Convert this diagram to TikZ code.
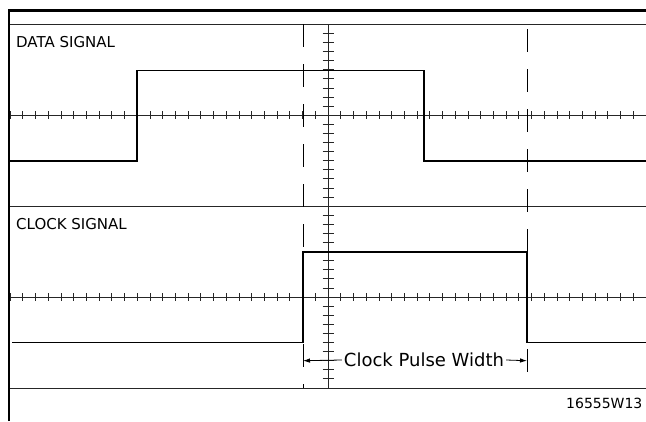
\documentclass[tikz,border=0pt]{standalone}
\usepackage{fontspec}
\setmainfont{DejaVu Sans}
\usetikzlibrary{arrows.meta}
\tikzset{
  frame/.style={line width=2.4pt,draw=black},
  gridline/.style={line width=0.8pt,draw=black!85},
  tickmark/.style={line width=0.7pt,draw=black!85},
  wave/.style={line width=1.3pt,draw=black,line join=miter},
  marker/.style={line width=1pt,draw=black,dash pattern=on 23pt off 17pt},
  lab/.style={font=\fontsize{15}{15}\selectfont,anchor=base west,inner sep=0pt},
  dimlab/.style={font=\fontsize{18}{18}\selectfont,inner sep=2pt},
  dim/.style={-{Latex[length=7pt,width=4.5pt]},line width=0.8pt}
}
\begin{document}
\begin{tikzpicture}[x=1pt,y=-1pt]
  \useasboundingbox (0,0) rectangle (646,421);

  % screen frame
  \draw[frame] (9,421) -- (9,10.5) -- (646,10.5);

  % graticule
  \foreach \yy in {24.3,115,206,297,388}
    \draw[gridline] (10,\yy) -- (646,\yy);
  \draw[gridline] (328,24.3) -- (328,388);
  \foreach \i in {0,...,50} {
    \draw[tickmark] ({10+12.72*\i},111) -- ({10+12.72*\i},119);
    \draw[tickmark] ({10+12.72*\i},293) -- ({10+12.72*\i},301);
  }
  \foreach \j in {0,...,40}
    \draw[tickmark] (322.5,{24.3+9.09*\j}) -- (333.5,{24.3+9.09*\j});

  % data trace
  \node[lab] (datalab) at (16,47) {DATA SIGNAL};
  \draw[wave] (10,161) -- (137,161) -- (137,70.5) -- (424,70.5) -- (424,161) -- (646,161);

  % clock trace
  \node[lab] (clocklab) at (16,229) {CLOCK SIGNAL};
  \draw[wave] (12,342.5) -- (303,342.5) -- (303,252) -- (527,252) -- (527,342.5) -- (646,342.5);

  % pulse width markers
  \draw[marker] (303,24.3) -- (303,388);
  \draw[marker,dash phase=35pt] (527,24.3) -- (527,388);
  \coordinate (edgeL) at (303,360.7);
  \coordinate (edgeR) at (527,360.7);
  \node[dimlab] (pulselab) at (424,360) {Clock Pulse Width};
  \draw[dim] (pulselab.west) -- (edgeL);
  \draw[dim] (pulselab.east) -- (edgeR);

  % figure number
  \node[lab,font=\fontsize{14}{14}\selectfont] (fignum) at (566,408.3) {16555W13};
\end{tikzpicture}
\end{document}
